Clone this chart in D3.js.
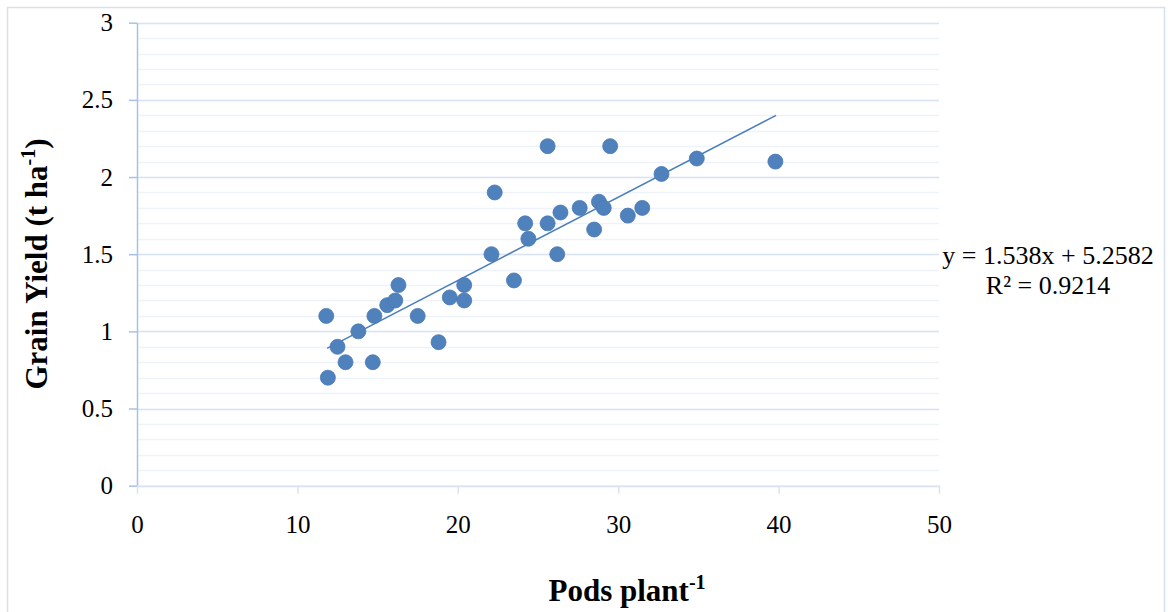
<!DOCTYPE html>
<html>
<head>
<meta charset="utf-8">
<script src="https://cdn.jsdelivr.net/npm/d3@7/dist/d3.min.js"></script>
<style>
  body { margin: 0; background: #fff; }
  text { font-family: "Liberation Serif", "Times New Roman", serif; }
</style>
</head>
<body>
<div id="chart"></div>
<script>
// pods per plant vs grain yield
const pods = [11.8, 11.9, 12.5, 13.0, 13.8, 14.8, 14.7, 15.6, 16.1, 16.3, 17.5, 18.8, 19.5, 20.4, 20.4,
  22.1, 22.3, 23.5, 24.2, 24.4, 25.6, 25.6, 26.2, 26.4, 27.6, 28.5, 28.8, 29.1, 29.5, 30.6, 31.5, 32.7, 34.9, 39.8];
const grainYield = [1.1, 0.7, 0.9, 0.8, 1.0, 1.1, 0.8, 1.17, 1.2, 1.3, 1.1, 0.93, 1.22, 1.3, 1.2,
  1.5, 1.9, 1.33, 1.7, 1.6, 2.2, 1.7, 1.5, 1.77, 1.8, 1.66, 1.84, 1.8, 2.2, 1.75, 1.8, 2.02, 2.12, 2.1];

// trend line ends as drawn
const trendX = [11.85, 39.84];
const trendY = [0.89, 2.40];

const xTicks = [0, 10, 20, 30, 40, 50];
const yTicks = [0, 0.5, 1, 1.5, 2, 2.5, 3];
const yMinor = d3.range(0, 3.01, 0.1);

const width = 1168, height = 612;
const marginLeft = 137, marginRight = 229, marginTop = 22.7, marginBottom = 126.3;

const svg = d3.select("#chart").append("svg")
  .attr("width", width)
  .attr("height", height);

// outer chart border
svg.append("rect")
  .attr("x", 7.5).attr("y", 7.5)
  .attr("width", 1157).attr("height", 620)
  .attr("fill", "none")
  .attr("stroke", "#d5e0f0")
  .attr("stroke-width", 1.5);

const x = d3.scaleLinear().domain([0, 50]).range([marginLeft, width - marginRight]);
const y = d3.scaleLinear().domain([0, 3]).range([height - marginBottom, marginTop]);

// minor gridlines
svg.append("g")
  .selectAll("line")
  .data(yMinor)
  .join("line")
  .attr("x1", x(0)).attr("x2", x(50))
  .attr("y1", d => Math.round(y(d)) + 0.5).attr("y2", d => Math.round(y(d)) + 0.5)
  .attr("stroke", "#eef2f9")
  .attr("stroke-width", 1.5);

// major gridlines
svg.append("g")
  .selectAll("line")
  .data(yTicks)
  .join("line")
  .attr("x1", x(0)).attr("x2", x(50))
  .attr("y1", d => Math.round(y(d)) + 0.5).attr("y2", d => Math.round(y(d)) + 0.5)
  .attr("stroke", "#d9e3f3")
  .attr("stroke-width", 1.5);

// y axis
const gy = svg.append("g")
  .attr("transform", `translate(${x(0)},0)`)
  .call(d3.axisLeft(y).tickValues(yTicks).tickFormat(d3.format("")).tickSize(8).tickSizeOuter(0).tickPadding(16));
gy.select(".domain").attr("stroke", "#a7c1e6").attr("stroke-width", 1.5);
gy.selectAll(".tick line").attr("stroke", "#a7c1e6").attr("stroke-width", 1.5);
gy.selectAll(".tick text")
  .attr("fill", "#000")
  .style("font-family", "'Liberation Serif', serif")
  .style("font-size", "25px");

// x axis
const gx = svg.append("g")
  .attr("transform", `translate(0,${y(0)})`)
  .call(d3.axisBottom(x).tickValues(xTicks).tickSize(8).tickSizeOuter(0).tickPadding(22));
gx.select(".domain").attr("stroke", "#d9e3f3").attr("stroke-width", 1.5);
gx.selectAll(".tick line").attr("stroke", "#d9e3f3").attr("stroke-width", 1.5);
gx.selectAll(".tick text")
  .attr("fill", "#000")
  .style("font-family", "'Liberation Serif', serif")
  .style("font-size", "25px");

// trend line
svg.append("line")
  .attr("x1", x(trendX[0])).attr("y1", y(trendY[0]))
  .attr("x2", x(trendX[1])).attr("y2", y(trendY[1]))
  .attr("stroke", "#4a7ebb")
  .attr("stroke-width", 1.5);

// points
const data = pods.map((p, i) => ({ x: p, y: grainYield[i] }));
svg.append("g")
  .selectAll("circle")
  .data(data)
  .join("circle")
  .attr("cx", d => x(d.x))
  .attr("cy", d => y(d.y))
  .attr("r", 7.5)
  .attr("fill", "#4f81bd")
  .attr("stroke", "#4a78b3")
  .attr("stroke-width", 0.8);

// equation label
svg.append("text")
  .attr("x", 1048).attr("y", 264)
  .attr("text-anchor", "middle")
  .style("font-size", "26px")
  .text("y = 1.538x + 5.2582");
svg.append("text")
  .attr("x", 1048).attr("y", 294)
  .attr("text-anchor", "middle")
  .style("font-size", "26px")
  .text("R² = 0.9214");

// axis titles
const xt = svg.append("text")
  .attr("x", 627).attr("y", 601)
  .attr("text-anchor", "middle")
  .style("font-size", "31px")
  .style("font-weight", "bold");
xt.append("tspan").text("Pods plant");
xt.append("tspan").attr("dy", -12).style("font-size", "20px").text("-1");

const yt = svg.append("text")
  .attr("transform", "translate(47,264) rotate(-90)")
  .attr("text-anchor", "middle")
  .style("font-size", "31px")
  .style("font-weight", "bold");
yt.append("tspan").text("Grain Yield (t ha");
yt.append("tspan").attr("dy", -12).style("font-size", "20px").text("-1");
yt.append("tspan").attr("dy", 12).text(")");
</script>
</body>
</html>
